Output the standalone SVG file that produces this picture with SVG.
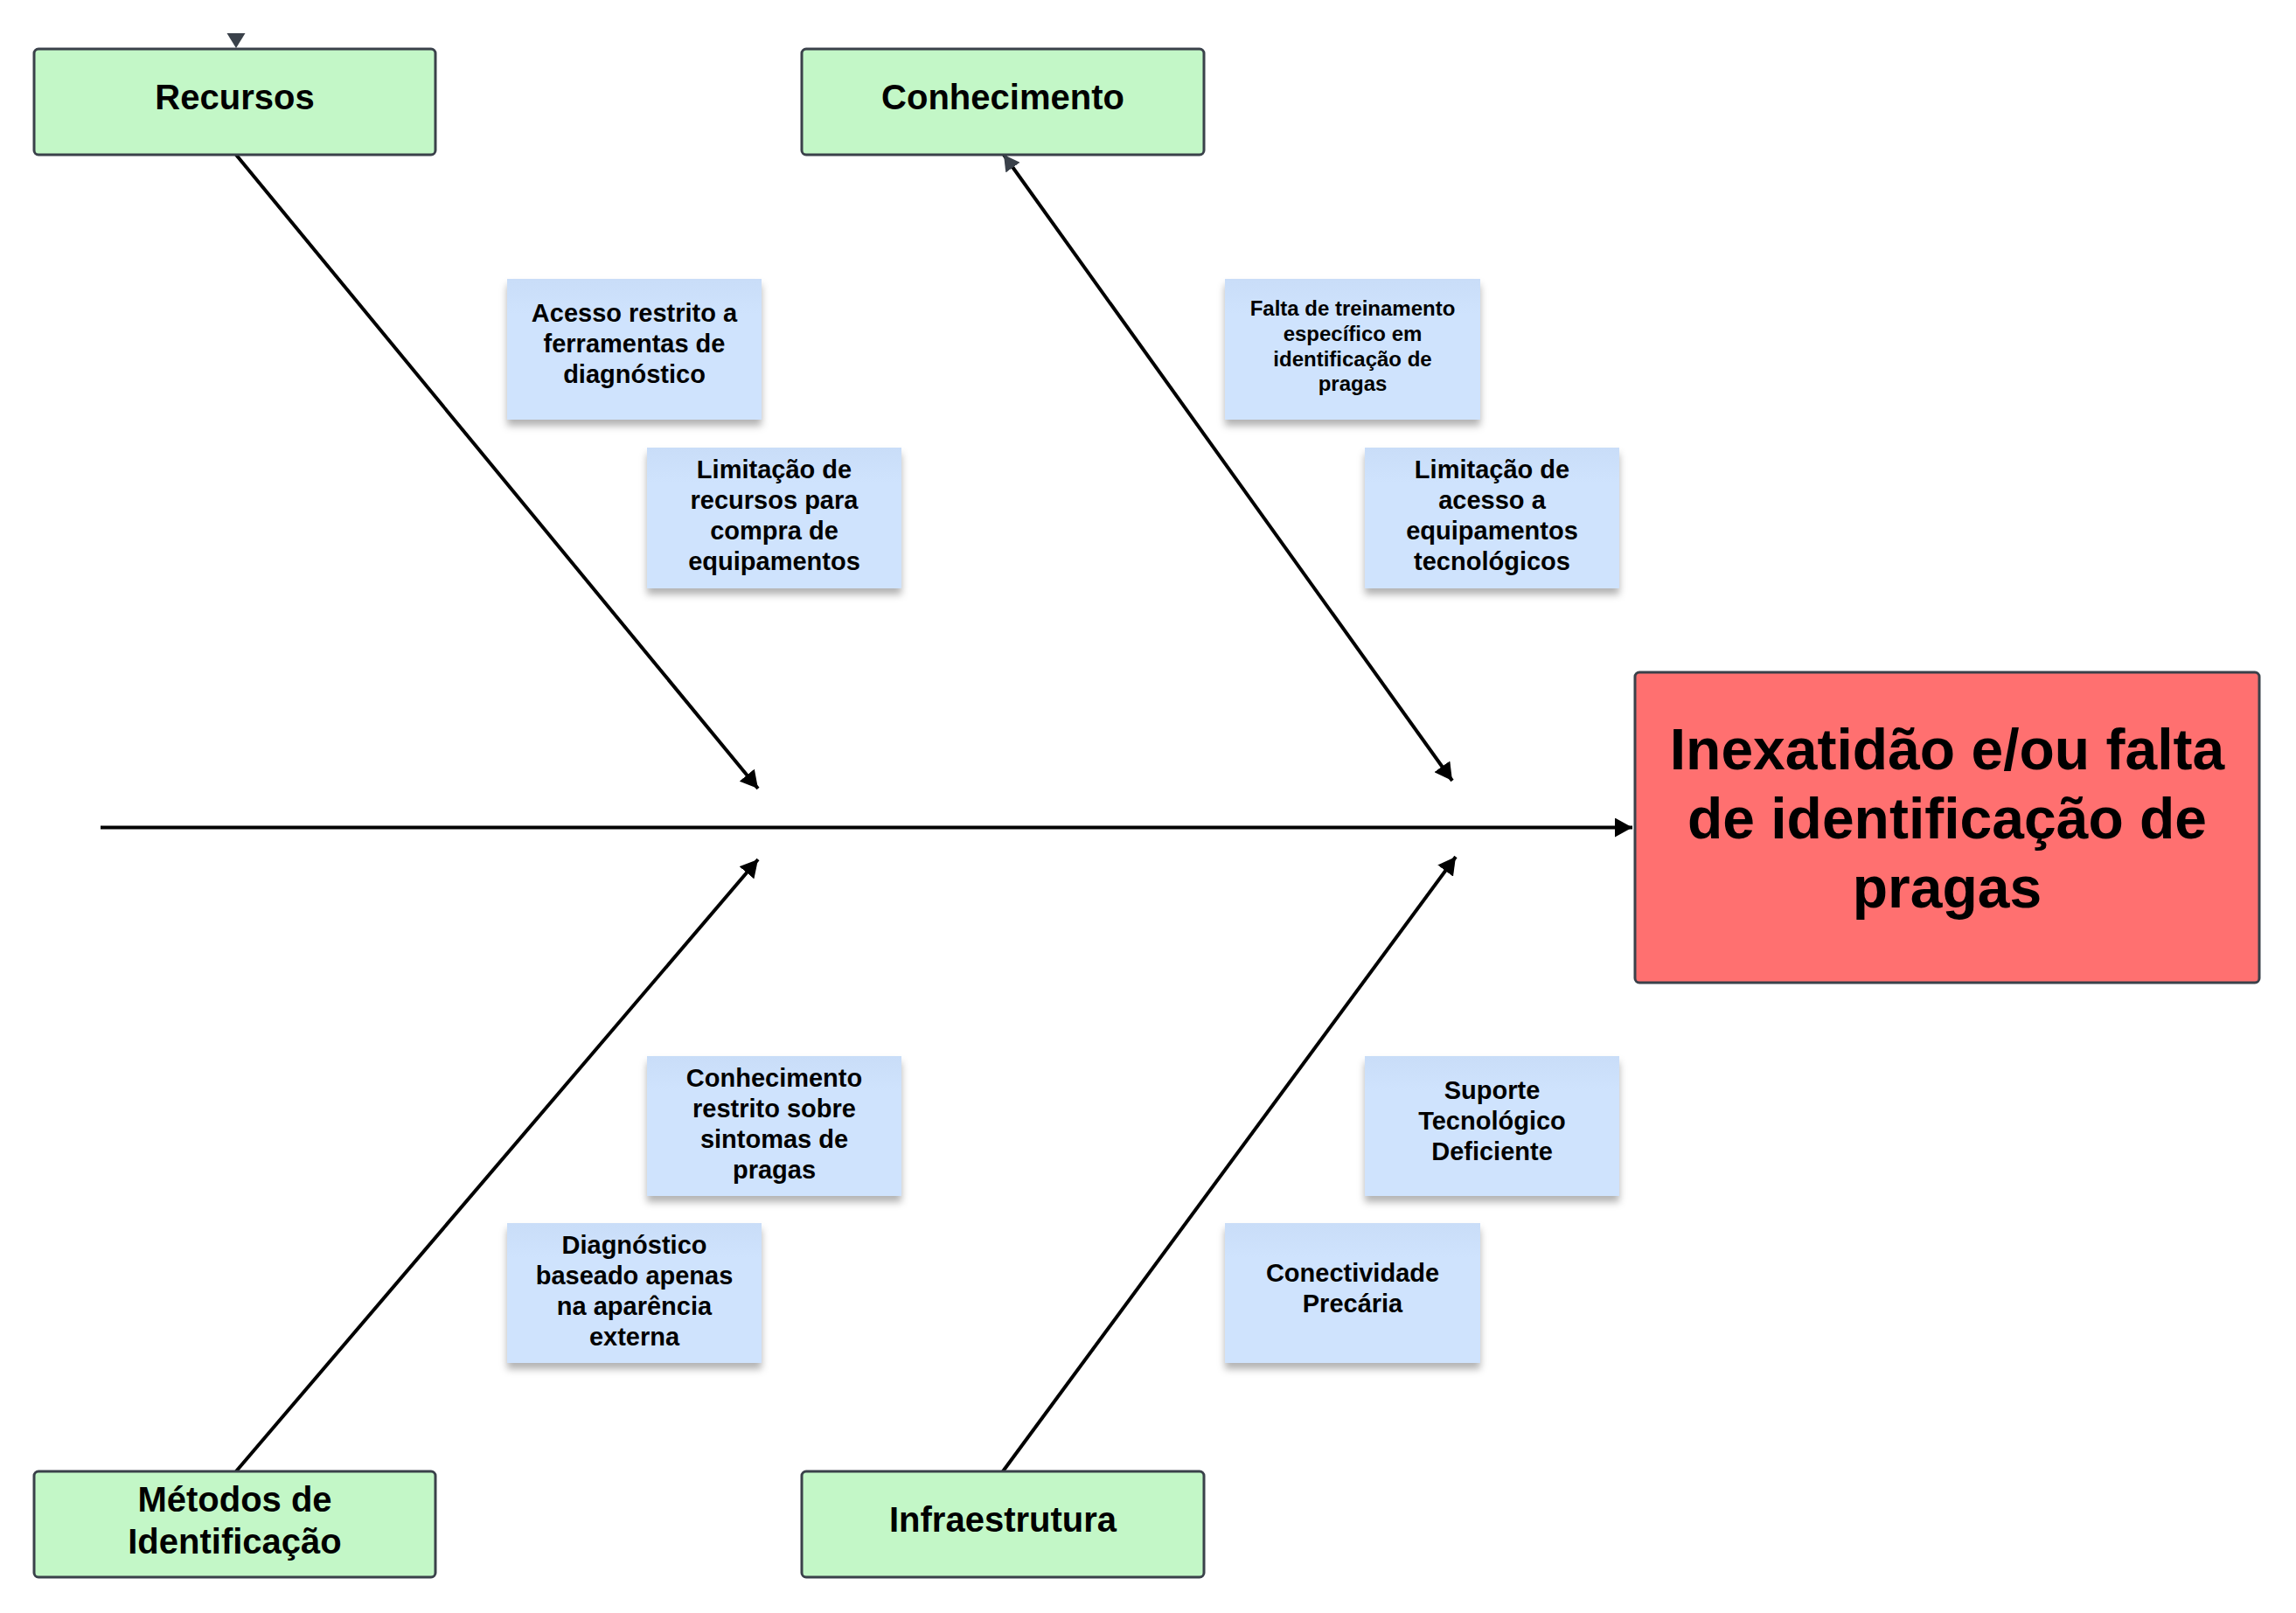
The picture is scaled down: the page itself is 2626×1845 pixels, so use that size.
<svg xmlns="http://www.w3.org/2000/svg" width="2626" height="1845" viewBox="0 0 2626 1845">
<style>
.cat rect{fill:#c3f7c7;stroke:#3a414a;stroke-width:3}
.cat text{font-family:"Liberation Sans",Arial,sans-serif;font-weight:bold;font-size:40px;fill:#000;text-anchor:middle}
.note rect{fill:url(#ng);filter:url(#sh)}
.note text{font-family:"Liberation Sans",Arial,sans-serif;font-weight:bold;font-size:29px;fill:#000;text-anchor:middle}
.note text.sm{font-size:24px}
.bone{stroke:#000;stroke-width:4;fill:none;marker-end:url(#ah)}
.head rect{fill:#ff7070;stroke:#3a414a;stroke-width:3}
.head text{font-family:"Liberation Sans",Arial,sans-serif;font-weight:bold;font-size:66px;fill:#000;text-anchor:middle}
</style>
<defs>
<linearGradient id="ng" x1="0" y1="0" x2="0" y2="1">
<stop offset="0" stop-color="#c9ddf8"/>
<stop offset="0.25" stop-color="#cfe3fd"/>
<stop offset="1" stop-color="#cfe3fd"/>
</linearGradient>
<filter id="sh" x="-10%" y="-10%" width="120%" height="130%">
<feDropShadow dx="0" dy="7" stdDeviation="4" flood-color="#000" flood-opacity="0.3"/>
</filter>
<marker id="ah" markerUnits="userSpaceOnUse" markerWidth="20" markerHeight="22" refX="20" refY="11" orient="auto" viewBox="0 0 20 22">
<path d="M0,0 L20,11 L0,22 z" fill="#000"/>
</marker>
<marker id="gh" markerUnits="userSpaceOnUse" markerWidth="18" markerHeight="20" refX="18" refY="10" orient="auto-start-reverse" viewBox="0 0 18 20">
<path d="M0,0 L18,10 L0,20 z" fill="#3a414a"/>
</marker>
</defs>
<rect width="2626" height="1845" fill="#fff"/>

<g id="connectors">
<line x1="115" y1="946.5" x2="1867" y2="946.5" stroke="#000" stroke-width="4" marker-end="url(#ah)"/>
<line class="bone" x1="270" y1="177" x2="867" y2="902"/>
<line class="bone" x1="1148" y1="177" x2="1661" y2="893" marker-start="url(#gh)"/>
<line class="bone" x1="270" y1="1683" x2="867" y2="983"/>
<line class="bone" x1="1147" y1="1683" x2="1665" y2="980"/>
<polygon points="259.5,38 280.5,38 270,55" fill="#3a414a"/>
</g>

<g id="recursos" class="cat">
<rect x="39" y="56" width="459" height="121" rx="5"/>
<text x="268.5" y="125">Recursos</text>
</g>
<g id="conhecimento" class="cat">
<rect x="917" y="56" width="460" height="121" rx="5"/>
<text x="1147" y="125">Conhecimento</text>
</g>
<g id="metodos" class="cat">
<rect x="39" y="1683" width="459" height="121" rx="5"/>
<text x="268.5" y="1729">Métodos de</text>
<text x="268.5" y="1777">Identificação</text>
</g>
<g id="infraestrutura" class="cat">
<rect x="917" y="1683" width="460" height="121" rx="5"/>
<text x="1147" y="1752">Infraestrutura</text>
</g>

<g id="problema" class="head">
<rect x="1870" y="769" width="714" height="355" rx="5"/>
<text x="2227" y="880">Inexatidão e/ou falta</text>
<text x="2227" y="959">de identificação de</text>
<text x="2227" y="1038">pragas</text>
</g>

<g id="n1" class="note">
<rect x="580" y="319" width="291" height="161"/>
<text x="725.5" y="368">Acesso restrito a</text>
<text x="725.5" y="403">ferramentas de</text>
<text x="725.5" y="438">diagnóstico</text>
</g>
<g id="n2" class="note">
<rect x="740" y="512" width="291" height="161"/>
<text x="885.5" y="547">Limitação de</text>
<text x="885.5" y="582">recursos para</text>
<text x="885.5" y="617">compra de</text>
<text x="885.5" y="652">equipamentos</text>
</g>
<g id="n3" class="note">
<rect x="1401" y="319" width="292" height="161"/>
<text class="sm" x="1547" y="361">Falta de treinamento</text>
<text class="sm" x="1547" y="390">específico em</text>
<text class="sm" x="1547" y="419">identificação de</text>
<text class="sm" x="1547" y="447">pragas</text>
</g>
<g id="n4" class="note">
<rect x="1561" y="512" width="291" height="161"/>
<text x="1706.5" y="547">Limitação de</text>
<text x="1706.5" y="582">acesso a</text>
<text x="1706.5" y="617">equipamentos</text>
<text x="1706.5" y="652">tecnológicos</text>
</g>
<g id="n5" class="note">
<rect x="740" y="1208" width="291" height="160"/>
<text x="885.5" y="1243">Conhecimento</text>
<text x="885.5" y="1278">restrito sobre</text>
<text x="885.5" y="1313">sintomas de</text>
<text x="885.5" y="1348">pragas</text>
</g>
<g id="n6" class="note">
<rect x="580" y="1399" width="291" height="160"/>
<text x="725.5" y="1434">Diagnóstico</text>
<text x="725.5" y="1469">baseado apenas</text>
<text x="725.5" y="1504">na aparência</text>
<text x="725.5" y="1539">externa</text>
</g>
<g id="n7" class="note">
<rect x="1561" y="1208" width="291" height="160"/>
<text x="1706.5" y="1257">Suporte</text>
<text x="1706.5" y="1292">Tecnológico</text>
<text x="1706.5" y="1327">Deficiente</text>
</g>
<g id="n8" class="note">
<rect x="1401" y="1399" width="292" height="160"/>
<text x="1547" y="1466">Conectividade</text>
<text x="1547" y="1501">Precária</text>
</g>
</svg>
